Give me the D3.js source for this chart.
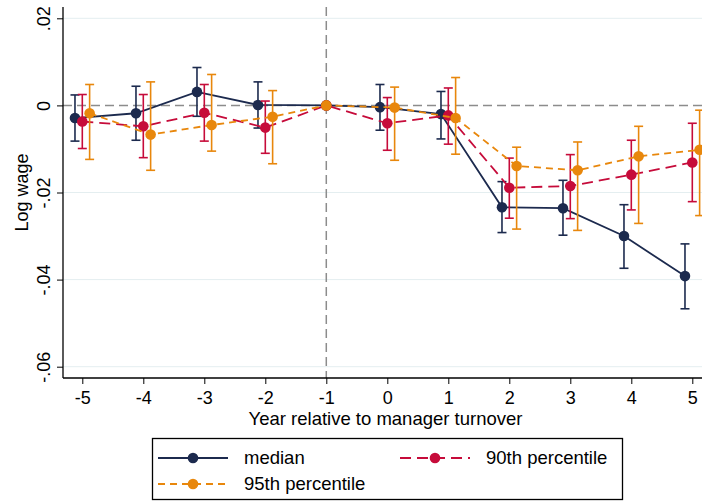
<!DOCTYPE html>
<meta charset='utf-8'>
<html>
<head>
    <title>Log wage around manager turnover</title>
    <script src='https://d3js.org/d3.v7.min.js'></script>
    <style>
        html,
        body {
            margin: 0;
            padding: 0;
            background: white;
        }

        svg {
            display: block;
            font-family: 'Liberation Sans', Arial, sans-serif;
        }
    </style>
</head>
<body>
    <script>

        // values
        const years = [-5, -4, -3, -2, -1, 0, 1, 2, 3, 4, 5];

        const medianEst = [-0.0029, -0.0018, 0.0031, 0.0001, 0, -0.0004, -0.0020, -0.0234, -0.0236, -0.0300, -0.0392];
        const medianLo = [-0.0082, -0.0080, -0.0025, -0.0052, 0, -0.0057, -0.0077, -0.0292, -0.0298, -0.0374, -0.0467];
        const medianHi = [0.0024, 0.0044, 0.0087, 0.0054, 0, 0.0048, 0.0032, -0.0175, -0.0172, -0.0228, -0.0318];

        const p90Est = [-0.0037, -0.0048, -0.0017, -0.0051, 0, -0.0041, -0.0023, -0.0189, -0.0185, -0.0159, -0.0131];
        const p90Lo = [-0.0099, -0.0120, -0.0082, -0.0110, 0, -0.0103, -0.0089, -0.0259, -0.0260, -0.0240, -0.0221];
        const p90Hi = [0.0025, 0.0025, 0.0048, 0.0010, 0, 0.0018, 0.0040, -0.0121, -0.0113, -0.0080, -0.0041];

        const p95Est = [-0.0018, -0.0067, -0.0045, -0.0026, 0, -0.0005, -0.0029, -0.0139, -0.0149, -0.0117, -0.0102];
        const p95Lo = [-0.0124, -0.0149, -0.0105, -0.0134, 0, -0.0126, -0.0112, -0.0284, -0.0287, -0.0271, -0.0253];
        const p95Hi = [0.0048, 0.0054, 0.0071, 0.0034, 0, 0.0042, 0.0064, -0.0096, -0.0084, -0.0048, -0.0011];

        const yTicks = [0.02, 0, -0.02, -0.04, -0.06];
        const yTickLabels = ['.02', '0', '-.02', '-.04', '-.06'];
        const seriesNames = ['median', '90th percentile', '95th percentile'];

        const width = 702;
        const height = 501;
        const plotLeft = 63;
        const plotTop = 7;
        const plotBottom = 378;

        const colours = ['#1c2a4e', '#c60b3a', '#e8870c'];
        const dashes = [null, '11,6', '7,5'];
        const dodge = [-0.12, 0, 0.12];

        const series = [
            { name: seriesNames[0], est: medianEst, lo: medianLo, hi: medianHi },
            { name: seriesNames[1], est: p90Est, lo: p90Lo, hi: p90Hi },
            { name: seriesNames[2], est: p95Est, lo: p95Lo, hi: p95Hi }
        ];

        const svg = d3.select('body')
            .append('svg')
            .attr('width', width)
            .attr('height', height);

        const x = d3.scaleLinear().domain([-5, 5]).range([82.3, 692.3]);
        const y = d3.scaleLinear().domain([0.02, -0.06]).range([18.3, 366.7]);

        // gridlines (not at 0, the reference line sits there)
        svg.append('g')
            .selectAll('line')
            .data(yTicks.filter(d => d !== 0))
            .enter()
            .append('line')
            .attr('x1', plotLeft)
            .attr('x2', width)
            .attr('y1', d => y(d))
            .attr('y2', d => y(d))
            .style('stroke', '#e4eef0')
            .style('stroke-width', 1);

        // reference lines
        svg.append('line')
            .attr('x1', plotLeft).attr('x2', width)
            .attr('y1', y(0)).attr('y2', y(0))
            .style('stroke', '#8c8c8c')
            .style('stroke-width', 1.5)
            .style('stroke-dasharray', '9,5');

        svg.append('line')
            .attr('x1', x(-1)).attr('x2', x(-1))
            .attr('y1', plotTop).attr('y2', plotBottom)
            .style('stroke', '#8c8c8c')
            .style('stroke-width', 1.5)
            .style('stroke-dasharray', '9,5');

        // y axis
        const yAxis = d3.axisLeft(y)
            .tickValues(yTicks)
            .tickSize(6)
            .tickFormat((d, i) => yTickLabels[i]);

        const gy = svg.append('g')
            .attr('transform', 'translate(' + plotLeft + ',0)')
            .call(yAxis);
        gy.select('.domain').attr('d', 'M0,' + plotTop + 'V' + plotBottom).style('stroke', 'black').style('stroke-width', 1.3);
        gy.selectAll('.tick line').style('stroke', 'black');
        gy.selectAll('.tick text')
            .attr('x', null).attr('dy', null)
            .attr('transform', 'translate(-13,0) rotate(-90)')
            .attr('text-anchor', 'middle')
            .style('font-size', '18px')
            .style('fill', 'black');

        // x axis
        const xAxis = d3.axisBottom(x)
            .tickValues(years)
            .tickSize(6)
            .tickFormat(d => String(d));

        const gx = svg.append('g')
            .attr('transform', 'translate(0,' + plotBottom + ')')
            .call(xAxis);
        gx.select('.domain').attr('d', 'M' + plotLeft + ',0H' + width).style('stroke', 'black').style('stroke-width', 1.3);
        gx.selectAll('.tick line').style('stroke', 'black');
        gx.selectAll('.tick text')
            .attr('y', 26).attr('dy', null)
            .style('font-size', '18px')
            .style('fill', 'black');

        // axis titles
        svg.append('text')
            .attr('x', (plotLeft + width) / 2 + 3)
            .attr('y', 425)
            .attr('text-anchor', 'middle')
            .style('font-size', '18.5px')
            .text('Year relative to manager turnover');

        svg.append('text')
            .attr('transform', 'translate(28,' + ((plotTop + plotBottom) / 2) + ') rotate(-90)')
            .attr('text-anchor', 'middle')
            .style('font-size', '18px')
            .text('Log wage');

        // draw each series: caps, connecting line, markers
        series.forEach(function (s, k) {
            const rows = years.map((yr, i) => ({
                xv: yr === -1 ? yr : yr + dodge[k],
                est: s.est[i], lo: s.lo[i], hi: s.hi[i]
            }));
            const g = svg.append('g');
            const bars = rows.filter(r => r.lo !== r.hi);

            g.selectAll('line.ci')
                .data(bars)
                .enter()
                .append('line')
                .attr('x1', d => x(d.xv)).attr('x2', d => x(d.xv))
                .attr('y1', d => y(d.lo)).attr('y2', d => y(d.hi))
                .style('stroke', colours[k])
                .style('stroke-width', 1.6);

            ['lo', 'hi'].forEach(function (key) {
                g.selectAll('line.cap-' + key)
                    .data(bars)
                    .enter()
                    .append('line')
                    .attr('x1', d => x(d.xv) - 4.5).attr('x2', d => x(d.xv) + 4.5)
                    .attr('y1', d => y(d[key])).attr('y2', d => y(d[key]))
                    .style('stroke', colours[k])
                    .style('stroke-width', 1.6);
            });

            g.append('path')
                .datum(rows)
                .attr('d', d3.line().x(d => x(d.xv)).y(d => y(d.est)))
                .style('fill', 'none')
                .style('stroke', colours[k])
                .style('stroke-width', 1.8)
                .style('stroke-dasharray', dashes[k]);

            g.selectAll('circle')
                .data(rows)
                .enter()
                .append('circle')
                .attr('cx', d => x(d.xv))
                .attr('cy', d => y(d.est))
                .attr('r', 5.3)
                .style('fill', colours[k]);
        });

        // legend
        const legend = svg.append('g');
        legend.append('rect')
            .attr('x', 152.5).attr('y', 438.5)
            .attr('width', 470).attr('height', 61)
            .style('fill', 'white')
            .style('stroke', 'black')
            .style('stroke-width', 1.3);

        const legendPos = [[158, 458], [400, 458], [158, 484]];
        series.forEach(function (s, k) {
            const lx = legendPos[k][0];
            const ly = legendPos[k][1];
            legend.append('line')
                .attr('x1', lx).attr('x2', lx + 70)
                .attr('y1', ly).attr('y2', ly)
                .style('stroke', colours[k])
                .style('stroke-width', 1.8)
                .style('stroke-dasharray', dashes[k]);
            legend.append('circle')
                .attr('cx', lx + 35).attr('cy', ly)
                .attr('r', 5.3)
                .style('fill', colours[k]);
            legend.append('text')
                .attr('x', lx + 86).attr('y', ly + 6)
                .style('font-size', '18.5px')
                .text(s.name);
        });

    </script>
</body>
</html>
